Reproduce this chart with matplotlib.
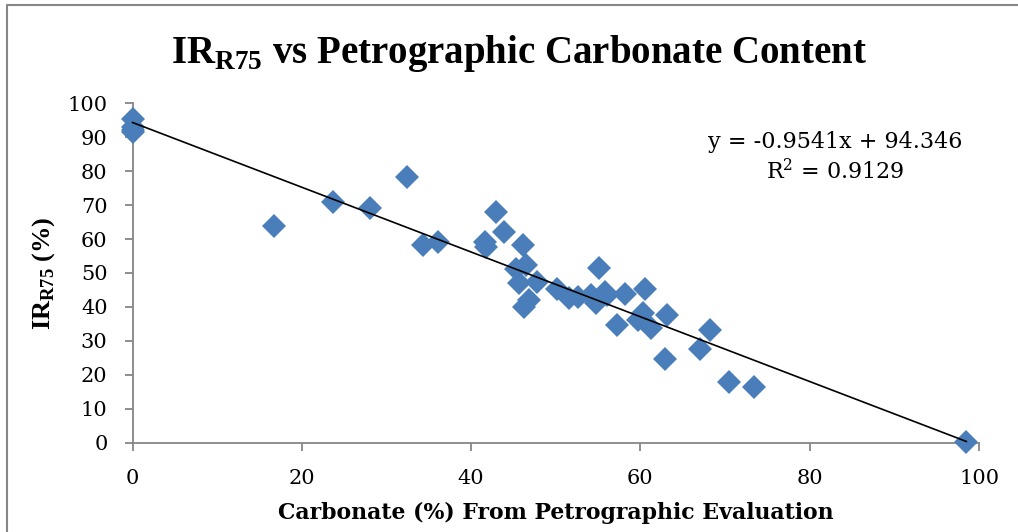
import matplotlib
matplotlib.use("Agg")
import matplotlib.pyplot as plt
from matplotlib.lines import Line2D

plt.rcParams['font.family'] = ['DejaVu Serif']
plt.rcParams['mathtext.fontset'] = 'custom'
plt.rcParams['mathtext.rm'] = 'Liberation Serif'
plt.rcParams['mathtext.bf'] = 'Liberation Serif:bold'

# carbonate content from petrography vs insoluble residue
carbonate = [0, 0, 0, 0, 16.7, 23.7, 28.0, 32.4, 34.3, 36.1, 41.6, 41.8, 42.9, 43.9,
             46.1, 46.5, 45.3, 45.7, 47.8, 46.8, 46.3, 50.1, 51.6, 52.6, 54.2, 54.8,
             55.1, 55.8, 56.0, 58.2, 60.5, 57.2, 59.7, 60.3, 61.3, 63.1, 62.9, 67.0,
             68.2, 70.5, 73.4, 98.5]
ir_r75 = [95.5, 93.0, 91.5, 92.0, 63.8, 71.0, 69.1, 78.4, 58.2, 59.2, 59.2, 57.8, 68.1, 62.2,
          58.2, 52.4, 51.1, 47.0, 47.4, 42.0, 40.1, 45.2, 42.5, 43.0, 43.5, 41.3,
          51.4, 44.5, 43.5, 43.7, 45.2, 34.7, 36.1, 38.1, 33.7, 37.6, 24.6, 27.5,
          33.2, 18.0, 16.3, 0.1]

slope = -0.9541
intercept = 94.346
r_squared = 0.9129
fit_x = [0, 98.5]

fig = plt.figure(figsize=(10.18, 5.32), dpi=100)
ax = fig.add_axes([0.1302, 0.1679, 0.8315, 0.6379])

ax.plot(carbonate, ir_r75, linestyle='none', marker='D', markersize=12,
        color='#4A7EBB', markeredgewidth=0, zorder=3, clip_on=False)
ax.plot(fit_x, [slope * v + intercept for v in fit_x], color='black', lw=1.2, zorder=4,
        clip_on=False)

ax.set_xlim(0, 100)
ax.set_ylim(0, 100)
ax.set_xticks(range(0, 101, 20))
ax.set_yticks(range(0, 101, 10))
for s in ['top', 'right']:
    ax.spines[s].set_visible(False)
for s in ['left', 'bottom']:
    ax.spines[s].set_color('#868686')
    ax.spines[s].set_linewidth(1.3)
    ax.spines[s].set_zorder(2)
ax.tick_params(colors='#868686', labelcolor='black', labelsize=15, length=6, width=1.3)
ax.tick_params(axis='x', pad=13)
ax.tick_params(axis='y', pad=12)

fig.text(0.5093, 1 - 62.7 / 532, 'IR$_{\\mathbf{R75}}$ vs Petrographic Carbonate Content',
         ha='center', va='baseline', fontsize=28, fontweight='bold', family='Liberation Serif')
ax.set_xlabel('Carbonate (%) From Petrographic Evaluation', fontsize=15.8,
              fontweight='bold', labelpad=10)
fig.text(44 / 1018, 0.4868, 'IR$_{\\mathbf{R75}}$ (%)', rotation=90, ha='center', va='center',
         fontsize=19, fontweight='bold', family='Liberation Serif')

ax.text(0.83, 0.886, 'y = %.4fx + %.3f' % (slope, intercept), transform=ax.transAxes,
        ha='center', va='center', fontsize=16)
ax.text(0.83, 0.798, '$\\mathdefault{R^{2}}$ = %.4f' % r_squared, transform=ax.transAxes,
        ha='center', va='center', fontsize=16)

# chart area frame
fig.add_artist(Line2D([0.0069, 0.0069, 1.0], [0.0, 0.9906, 0.9906],
                      transform=fig.transFigure, color='#868686', lw=1.5))

fig.savefig('out.png', dpi=100)
